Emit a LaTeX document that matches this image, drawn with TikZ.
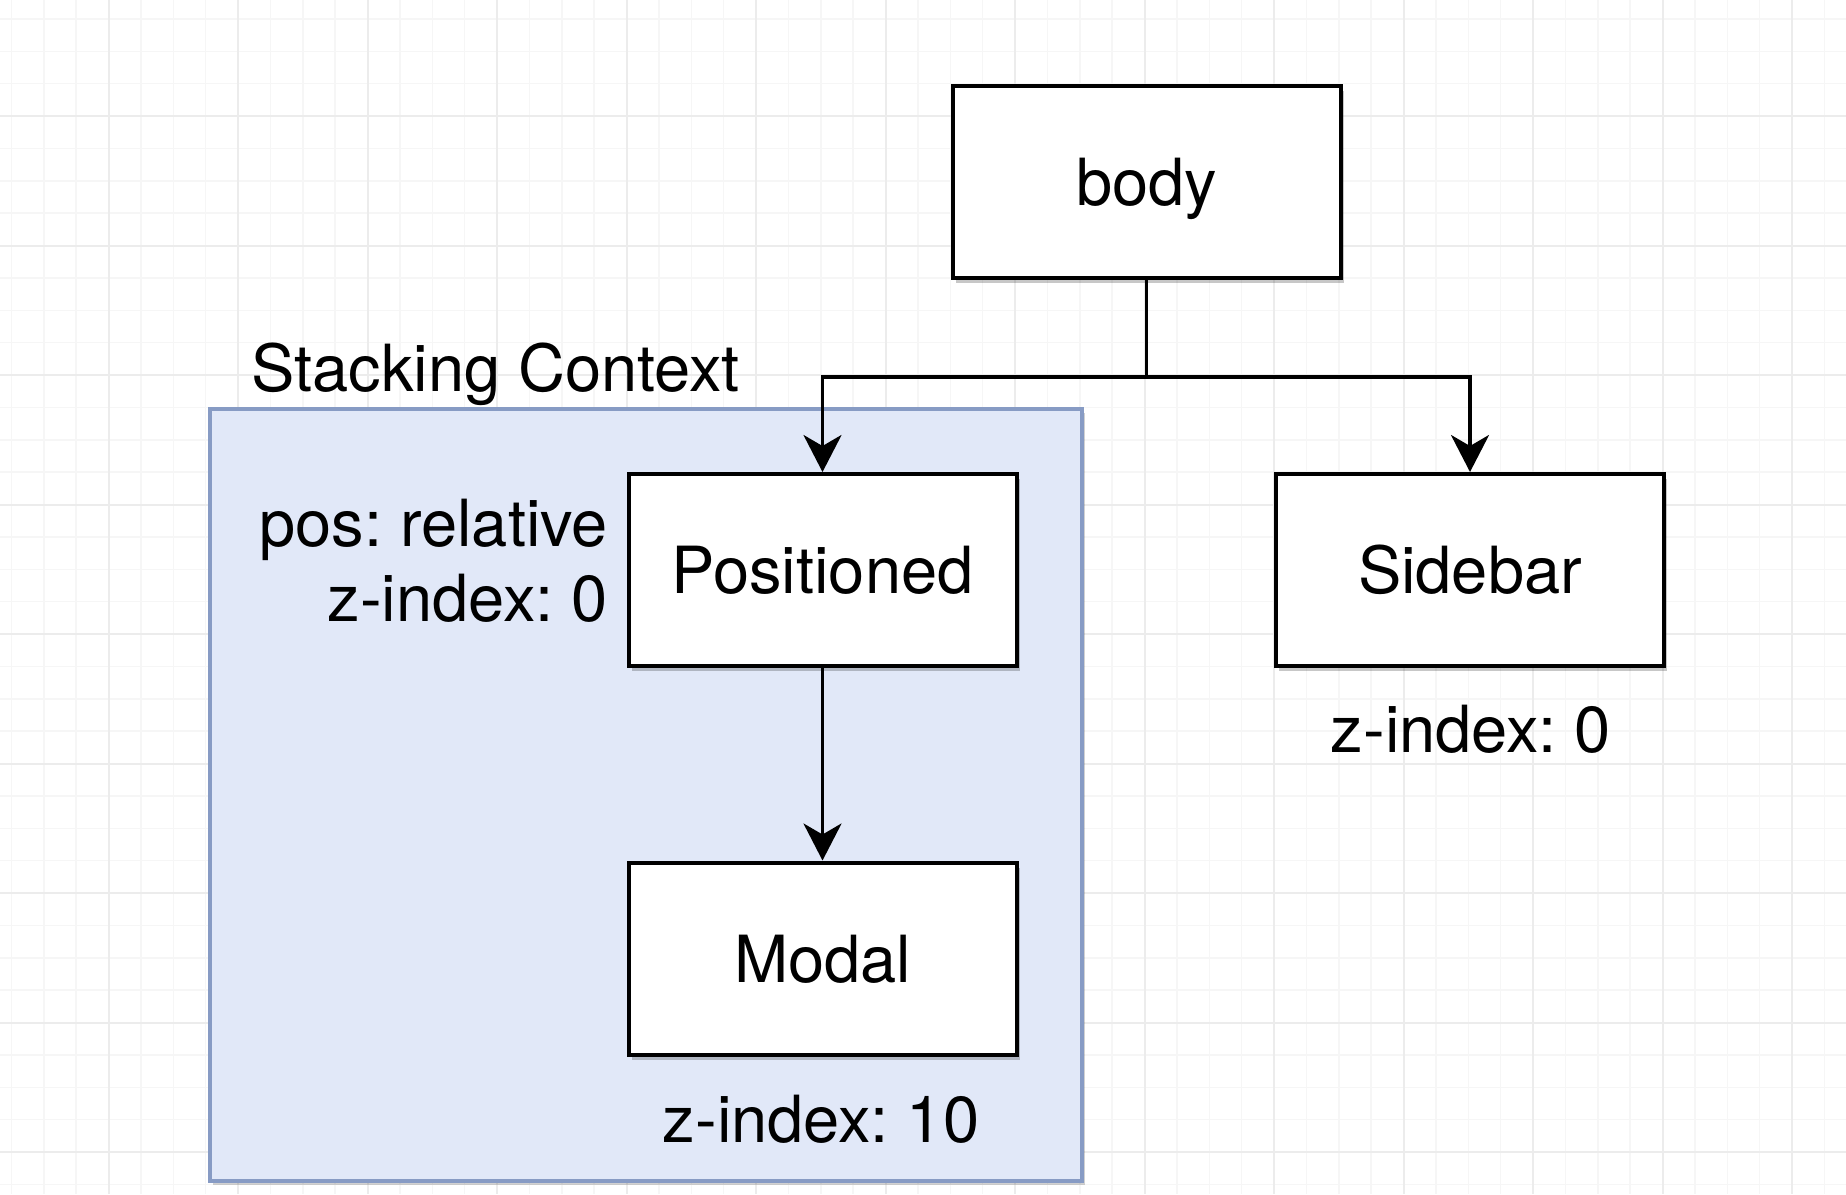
\documentclass[tikz,border=0pt]{standalone}
\usepackage{fontspec}
\setmainfont{TeX Gyre Heros}
\usetikzlibrary{arrows.meta,shadows}
\definecolor{gridminor}{RGB}{246,246,246}
\definecolor{gridmajor}{RGB}{236,236,236}
\definecolor{ctxfill}{RGB}{225,232,248}
\definecolor{ctxdraw}{RGB}{135,155,196}
\tikzset{
  boxnode/.style={draw=black, line width=4pt, fill=white, minimum width=388pt, minimum height=192pt,
    inner sep=0pt, font=\fontsize{65}{75}\selectfont, text height=47.5pt, text depth=0pt,
    drop shadow={shadow xshift=3pt, shadow yshift=-5pt, fill=black, opacity=0.22}},
  lbl/.style={inner sep=0pt, font=\fontsize{65}{75}\selectfont},
  conn/.style={line width=3.5pt, draw=black},
  arr/.style={conn, -{Stealth[length=37pt, width=38pt, inset=11pt]}},
}
\begin{document}
\frenchspacing
\begin{tikzpicture}[x=1pt, y=-1pt]
\useasboundingbox (0,0) rectangle (1846,1194);
\fill[white] (0,0) rectangle (1846,1194);
% grid
\foreach \i in {-7,...,50} {
  \draw[gridminor, line width=1.5pt] ({238+32.375*\i},0) -- ({238+32.375*\i},1194);
}
\foreach \i in {-3,...,33} {
  \draw[gridminor, line width=1.5pt] (0,{116+32.375*\i}) -- (1846,{116+32.375*\i});
}
\foreach \i in {-1,...,12} {
  \draw[gridmajor, line width=2pt] ({238+129.5*\i},0) -- ({238+129.5*\i},1194);
}
\foreach \i in {-1,...,8} {
  \draw[gridmajor, line width=2pt] (0,{116+129.5*\i}) -- (1846,{116+129.5*\i});
}
% stacking context container
\node[draw=ctxdraw, fill=ctxfill, line width=3.5pt, minimum width=872pt, minimum height=772pt, inner sep=0pt,
  drop shadow={shadow xshift=3pt, shadow yshift=-4pt, fill=black, opacity=0.18}] (ctx) at (646,795) {};
\node[lbl, anchor=base west] (ctxlabel) at (251,391) {Stacking Context};
% boxes
\node[boxnode] (body) at (1146.5,181.5) {body};
\node[boxnode] (pos) at (822.5,570) {Positioned};
\node[boxnode] (side) at (1470,570) {Sidebar};
\node[boxnode] (modal) at (822.5,958.5) {Modal};
% labels
\node[lbl, align=right, anchor=south east] (poslabel) at (608,623) {pos: relative\\z-index: 0};
\node[lbl, anchor=base] (sidelabel) at (1471,752) {z-index: 0};
\node[lbl, anchor=base] (modallabel) at (821,1142) {z-index: 10};
% connectors
\coordinate (split) at (1146.5,377);
\draw[conn] (body) -- (split);
\draw[arr] (split) -| (pos.north);
\draw[arr] (split) -| (side.north);
\draw[arr] (pos) -- (modal);
\end{tikzpicture}
\end{document}
